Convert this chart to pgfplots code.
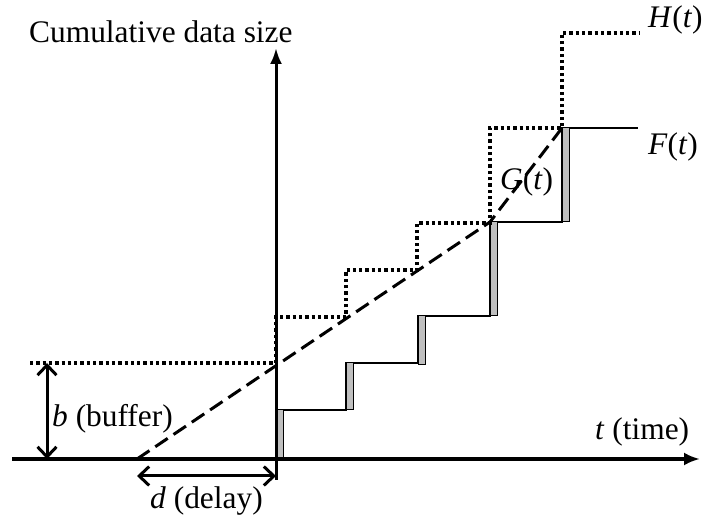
\documentclass[border=0pt]{standalone}
\usepackage{fontspec}
\setmainfont{Liberation Serif}
\usepackage{pgfplots}
\pgfplotsset{compat=1.18}
\usetikzlibrary{arrows.meta}
\begin{document}
\begin{tikzpicture}[font=\fontsize{31.4}{36}\selectfont]
\useasboundingbox (0,0) rectangle (703pt,524pt);
\begin{axis}[
    at={(0,0)}, anchor=south west,
    scale only axis, width=703pt, height=524pt,
    xmin=-276, xmax=427, ymin=-65, ymax=459,
    hide axis, clip=false, no markers,
]
% F(t): step line
\addplot[line width=2.6pt] coordinates {(0,49) (70,49) (70,96) (142,96) (142,143)
    (214,143) (214,237) (286,237) (286,331) (362,331)};
% F(t): gray bursts
\addplot[fill=gray!50, draw=black, line width=1pt] coordinates {(0,0) (7,0) (7,49) (0,49)} --cycle;
\addplot[fill=gray!50, draw=black, line width=1pt] coordinates {(70,49) (77,49) (77,96) (70,96)} --cycle;
\addplot[fill=gray!50, draw=black, line width=1pt] coordinates {(142,94) (149,94) (149,143) (142,143)} --cycle;
\addplot[fill=gray!50, draw=black, line width=1pt] coordinates {(214,143) (221,143) (221,237) (214,237)} --cycle;
\addplot[fill=gray!50, draw=black, line width=1pt] coordinates {(286,237) (293,237) (293,331) (286,331)} --cycle;
% H(t): dotted
\addplot[line width=3.3pt, dash pattern=on 3.3pt off 3pt] coordinates {(-246,96) (0,96) (0,142)
    (70,142) (70,189) (141,189) (141,236) (214,236) (214,331) (286,331) (286,426) (364,426)};
% G(t): dashed
\addplot[line width=3pt, dash pattern=on 15pt off 7pt] coordinates {(-139,0) (214,237) (286,331)};
% axes
\addplot[line width=3.6pt, -{Latex[length=16pt,width=13pt]}] coordinates {(-264,0) (424,0)};
\addplot[line width=3pt, -{Latex[length=16pt,width=12pt]}] coordinates {(0,-21) (0,411)};
% buffer and delay arrows
\addplot[line width=3pt, {Straight Barb[length=10pt,width=19pt]}-{Straight Barb[length=10pt,width=19pt]}]
    coordinates {(-229,0) (-229,96)};
\addplot[line width=3pt, {Straight Barb[length=10pt,width=19pt]}-{Straight Barb[length=10pt,width=19pt]}]
    coordinates {(-139,-17) (0,-17)};
% labels
\node[anchor=base west, inner sep=0pt] at (axis cs:-247,416) {Cumulative data size};
\node[anchor=base west, inner sep=0pt] at (axis cs:372,431) {\textit{H}(\textit{t})};
\node[anchor=base west, inner sep=0pt] at (axis cs:372,304) {\textit{F}(\textit{t})};
\node[anchor=base west, inner sep=0pt] at (axis cs:224,269) {\textit{G}(\textit{t})};
\node[anchor=base west, inner sep=0pt] at (axis cs:319,19) {\textit{t} (time)};
\node[anchor=base west, inner sep=0pt] at (axis cs:-224,32) {\textit{b} (buffer)};
\node[anchor=base west, inner sep=0pt] at (axis cs:-126,-49) {\textit{d} (delay)};
\end{axis}
\end{tikzpicture}
\end{document}
